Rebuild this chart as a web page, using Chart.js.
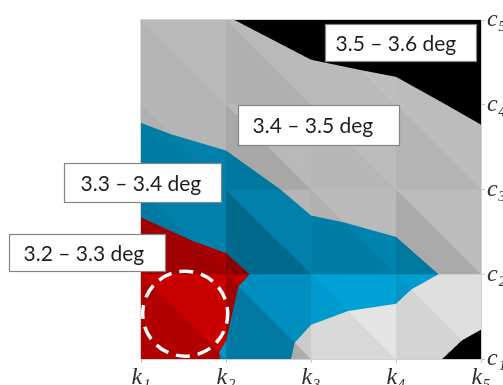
<!DOCTYPE html>
<html>
<head>
<meta charset="utf-8">
<script src="https://cdn.jsdelivr.net/npm/chart.js@4/dist/chart.umd.min.js"></script>
<style>
  html, body { margin: 0; padding: 0; background: #ffffff; }
  canvas { display: block; }
</style>
</head>
<body>
<canvas id="tiltMap" width="503" height="385"></canvas>
<script>
// ---- data ----
const kLabels = ['k₁', 'k₂', 'k₃', 'k₄', 'k₅'];
const cLabels = ['c₁', 'c₂', 'c₃', 'c₄', 'c₅'];
const bandEdges = [3.2, 3.3, 3.4, 3.5, 3.6];
const bandLabels = ['3.2 – 3.3 deg', '3.3 – 3.4 deg', '3.4 – 3.5 deg', '3.5 – 3.6 deg'];

// tilt angle (deg) at k1..k5 for each c row
const tiltC1 = [3.220, 3.306, 3.429, 3.456, 3.537];
const tiltC2 = [3.231, 3.278, 3.357, 3.370, 3.430];
const tiltC3 = [3.334, 3.366, 3.419, 3.438, 3.430];
const tiltC4 = [3.418, 3.440, 3.449, 3.469, 3.5215];
const tiltC5 = [3.460, 3.495, 3.545, 3.563, 3.600];
const tiltRows = [tiltC1, tiltC2, tiltC3, tiltC4, tiltC5];

// optimum region marker (k, c, radius in k units)
const optimum = { k: 1.52, c: 1.535, r: 0.5 };

// ---- styles ----
const bandColors = [[168, 0, 0], [0, 128, 170], [181, 181, 181], [0, 0, 0]];
// surface facet lighting per cell [c row][k col] = [lower-left facet, upper-right facet]
const facetShade = [
  [[1.05, 1.19], [0.95, 1.12], [1.20, 1.26], [1.17, 1.23]],
  [[0.95, 1.00], [0.83, 1.00], [0.98, 1.03], [0.94, 1.04]],
  [[0.97, 1.00], [0.93, 1.02], [1.01, 1.04], [1.00, 1.04]],
  [[1.00, 1.02], [0.97, 1.03], [1.03, 1.05], [1.04, 1.05]]
];
// callout boxes, one per band label: top-left corner in axis units, size in px
const calloutBoxes = [
  { k: -0.553, c: 2.471, w: 156, h: 37, pad: 14 },
  { k: 0.094, c: 3.318, w: 157, h: 39, pad: 16 },
  { k: 2.141, c: 3.994, w: 161, h: 40, pad: 14 },
  { k: 3.165, c: 4.955, w: 151, h: 37, pad: 10 }
];

// grid nodes handed to the chart
const nodes = [];
tiltRows.forEach((row, j) => row.forEach((z, i) => nodes.push({ x: i + 1, y: j + 1, z })));

// each grid cell is split along its TL-BR diagonal into two planar facets
function facetValue(Z, i, j, u, v) {
  const BL = Z[j][i], BR = Z[j][i + 1], TL = Z[j + 1][i], TR = Z[j + 1][i + 1];
  if (u + v >= 1) return TR + (1 - u) * (TL - TR) + (1 - v) * (BR - TR);
  return BL + u * (BR - BL) + v * (TL - BL);
}

const contourField = {
  id: 'contourField',
  beforeDatasetsDraw(chart) {
    const { ctx, chartArea: a, scales: { x, y } } = chart;
    const pts = chart.data.datasets[0].data;
    const Z = [];
    pts.forEach(p => { (Z[p.y - 1] = Z[p.y - 1] || [])[p.x - 1] = p.z; });
    const nx = Z[0].length - 1, ny = Z.length - 1;
    const x0 = Math.floor(a.left), y0 = Math.floor(a.top);
    const W = Math.ceil(a.right) - x0, H = Math.ceil(a.bottom) - y0;
    const off = document.createElement('canvas');
    off.width = W; off.height = H;
    const octx = off.getContext('2d');
    const img = octx.createImageData(W, H);
    const S = 3;
    const xMin = x.min, xMax = x.max, yMin = y.min, yMax = y.max;
    for (let py = 0; py < H; py++) {
      for (let px = 0; px < W; px++) {
        let r = 0, g = 0, b = 0;
        for (let sy = 0; sy < S; sy++) {
          const yv = Math.min(yMax, Math.max(yMin, y.getValueForPixel(y0 + py + (sy + 0.5) / S)));
          const j = Math.min(ny - 1, Math.floor(yv - yMin));
          const v = yv - yMin - j;
          for (let sx = 0; sx < S; sx++) {
            const xv = Math.min(xMax, Math.max(xMin, x.getValueForPixel(x0 + px + (sx + 0.5) / S)));
            const i = Math.min(nx - 1, Math.floor(xv - xMin));
            const u = xv - xMin - i;
            const z = facetValue(Z, i, j, u, v);
            let band = 0;
            while (band < bandColors.length - 1 && z >= bandEdges[band + 1]) band++;
            const s = facetShade[j][i][u + v >= 1 ? 1 : 0];
            const c = bandColors[band];
            r += Math.min(255, c[0] * s);
            g += Math.min(255, c[1] * s);
            b += Math.min(255, c[2] * s);
          }
        }
        const k = (py * W + px) * 4, n = S * S;
        img.data[k] = r / n; img.data[k + 1] = g / n; img.data[k + 2] = b / n; img.data[k + 3] = 255;
      }
    }
    octx.putImageData(img, 0, 0);
    ctx.save();
    ctx.beginPath();
    ctx.rect(a.left, a.top, a.right - a.left, a.bottom - a.top);
    ctx.clip();
    ctx.drawImage(off, x0, y0);
    ctx.restore();
  },
  afterDraw(chart) {
    const { ctx, chartArea: a, scales: { x, y } } = chart;
    ctx.save();
    // light frame on the open sides of the plot
    ctx.strokeStyle = '#D6D6D6';
    ctx.lineWidth = 1;
    ctx.beginPath();
    ctx.moveTo(a.left - 0.5, a.bottom);
    ctx.lineTo(a.left - 0.5, a.top - 0.5);
    ctx.lineTo(a.right, a.top - 0.5);
    ctx.stroke();

    // dashed circle around the optimum
    const cx = x.getPixelForValue(optimum.k), cy = y.getPixelForValue(optimum.c);
    const rad = x.getPixelForValue(optimum.k + optimum.r) - cx;
    ctx.strokeStyle = '#ffffff';
    ctx.lineWidth = 3.5;
    ctx.setLineDash([14, 8]);
    ctx.lineDashOffset = 4;
    ctx.beginPath();
    ctx.arc(cx, cy, rad, 0, Math.PI * 2);
    ctx.stroke();
    ctx.setLineDash([]);

    // band callouts
    ctx.font = '21px Lato, "Open Sans", sans-serif';
    ctx.textBaseline = 'middle';
    ctx.textAlign = 'left';
    bandLabels.forEach((txt, n) => {
      const bx = calloutBoxes[n];
      const l = Math.round(x.getPixelForValue(bx.k)) + 0.5;
      const t = Math.round(y.getPixelForValue(bx.c)) + 0.5;
      ctx.fillStyle = '#ffffff';
      ctx.fillRect(l, t, bx.w, bx.h);
      ctx.strokeStyle = '#858585';
      ctx.lineWidth = 1.2;
      ctx.strokeRect(l, t, bx.w, bx.h);
      ctx.fillStyle = '#1e1e1e';
      ctx.fillText(txt, l + bx.pad, t + bx.h / 2 + 1);
    });
    ctx.restore();
  }
};

const tickFont = { family: '"Liberation Serif", "DejaVu Serif", serif', size: 24, style: 'italic' };

new Chart(document.getElementById('tiltMap'), {
  type: 'scatter',
  data: {
    datasets: [{ data: nodes, pointRadius: 0, pointHoverRadius: 0, showLine: false }]
  },
  options: {
    responsive: false,
    animation: false,
    devicePixelRatio: 1,
    events: [],
    layout: { padding: { left: 141, top: 20, right: 0, bottom: 0 } },
    plugins: { legend: { display: false }, tooltip: { enabled: false } },
    scales: {
      x: {
        type: 'linear', position: 'bottom', min: 1, max: 5, z: 1,
        afterFit(s) { s.height = 26; },
        grid: { color: 'rgba(255,255,255,0.10)', tickColor: '#C4C4C4', tickLength: 4, lineWidth: 1 },
        border: { color: '#D0D0D0' },
        ticks: {
          stepSize: 1, padding: 0, autoSkip: false, maxRotation: 0,
          color: '#303030', font: tickFont,
          callback: v => kLabels[Math.round(v) - 1] ?? ''
        }
      },
      y: {
        type: 'linear', position: 'right', min: 1, max: 5, z: 1,
        afterFit(s) { s.width = 22; },
        grid: { color: 'rgba(255,255,255,0.10)', tickColor: '#C4C4C4', tickLength: 4, lineWidth: 1 },
        border: { color: '#D0D0D0' },
        ticks: {
          stepSize: 1, padding: 2, autoSkip: false,
          color: '#303030', font: tickFont,
          callback: v => cLabels[Math.round(v) - 1] ?? ''
        }
      }
    }
  },
  plugins: [contourField]
});
</script>
</body>
</html>
